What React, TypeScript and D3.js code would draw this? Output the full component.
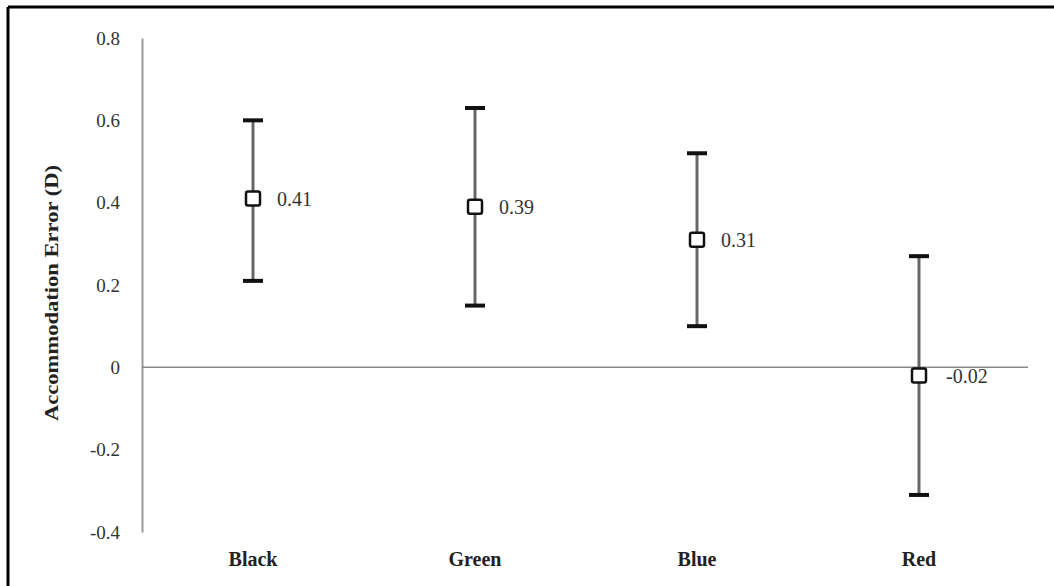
import React, { useEffect, useRef } from 'react';
import * as d3 from 'd3';

const categories = ['Black', 'Green', 'Blue', 'Red'];
const means = [0.41, 0.39, 0.31, -0.02];
const lower = [0.21, 0.15, 0.1, -0.31];
const upper = [0.6, 0.63, 0.52, 0.27];
const yTicks = [-0.4, -0.2, 0, 0.2, 0.4, 0.6, 0.8];

const W = 1054;
const H = 586;
const SERIF = '"Liberation Serif", "Times New Roman", serif';

// plain hyphen for negatives, like the source chart
const fmt = (spec: string) => (v: number) => d3.format(spec)(v).replace('\u2212', '-');

const App = () => {
  const ref = useRef<SVGSVGElement>(null);

  useEffect(() => {
    const svg = d3.select(ref.current);
    svg.selectAll('*').remove();

    const margin = { top: 38, left: 142, right: 24, bottom: 54 };

    const x = d3.scaleBand()
      .domain(categories)
      .range([margin.left, W - margin.right])
      .padding(0);

    const y = d3.scaleLinear()
      .domain([-0.4, 0.8])
      .range([H - margin.bottom, margin.top]);

    // frame (top and left edges only)
    svg.append('line')
      .attr('x1', 8).attr('x2', W).attr('y1', 7).attr('y2', 7)
      .attr('stroke', '#000').attr('stroke-width', 3);
    svg.append('line')
      .attr('x1', 8).attr('x2', 8).attr('y1', 7).attr('y2', H)
      .attr('stroke', '#000').attr('stroke-width', 3);

    // y axis
    const yAxis = svg.append('g')
      .attr('transform', `translate(${margin.left},0)`)
      .attr('font-family', SERIF)
      .call(d3.axisLeft(y).tickValues(yTicks).tickSize(0).tickPadding(22)
        .tickFormat(d => (d === 0 ? '0' : fmt('.1f')(d as number))));
    yAxis.attr('font-family', SERIF);
    yAxis.select('.domain').attr('stroke', '#999').attr('stroke-width', 2);
    yAxis.selectAll('text')
      .style('font-family', SERIF)
      .attr('font-size', 19)
      .attr('fill', '#333');

    // zero line
    svg.append('line')
      .attr('x1', margin.left).attr('x2', W - margin.right - 2)
      .attr('y1', y(0)).attr('y2', y(0))
      .attr('stroke', '#888').attr('stroke-width', 1.5);

    svg.selectAll('.cat')
      .data(categories)
      .enter().append('text')
      .attr('class', 'cat')
      .attr('x', d => (x(d) as number) + x.bandwidth() / 2)
      .attr('y', H - 20)
      .attr('text-anchor', 'middle')
      .style('font-family', SERIF)
      .attr('font-weight', 'bold')
      .attr('font-size', 20)
      .attr('fill', '#222')
      .text(d => d);

    // y title
    svg.append('text')
      .attr('transform', `translate(52,${(margin.top + H - margin.bottom) / 2 + 8}) rotate(-90)`)
      .attr('text-anchor', 'middle')
      .attr('dominant-baseline', 'central')
      .style('font-family', SERIF)
      .attr('font-weight', 'bold')
      .attr('font-size', 18)
      .attr('textLength', 256)
      .attr('lengthAdjust', 'spacingAndGlyphs')
      .attr('fill', '#222')
      .text('Accommodation Error (D)');

    const rows = categories.map((c, i) => ({
      c, mean: means[i], lo: lower[i], hi: upper[i],
    }));
    const cx = (c: string) => (x(c) as number) + x.bandwidth() / 2;

    const g = svg.selectAll('.pt').data(rows).enter().append('g').attr('class', 'pt');

    g.append('line')
      .attr('x1', d => cx(d.c)).attr('x2', d => cx(d.c))
      .attr('y1', d => y(d.hi)).attr('y2', d => y(d.lo))
      .attr('stroke', '#666').attr('stroke-width', 3);

    ['hi', 'lo'].forEach(k => {
      g.append('line')
        .attr('x1', d => cx(d.c) - 10).attr('x2', d => cx(d.c) + 10)
        .attr('y1', (d: any) => y(d[k])).attr('y2', (d: any) => y(d[k]))
        .attr('stroke', '#111').attr('stroke-width', 4);
    });

    g.append('rect')
      .attr('x', d => cx(d.c) - 7).attr('y', d => y(d.mean) - 7)
      .attr('width', 14).attr('height', 14)
      .attr('rx', 2)
      .attr('fill', '#fff').attr('stroke', '#111').attr('stroke-width', 2.5);

    g.append('text')
      .attr('x', d => cx(d.c) + (d.mean < 0 ? 27 : 24))
      .attr('y', d => y(d.mean) + 7)
      .style('font-family', SERIF)
      .attr('font-size', 20)
      .attr('fill', '#333')
      .text(d => fmt('.2f')(d.mean));
  }, []);

  return (
    <svg ref={ref} width={W} height={H}
      style={{ position: 'absolute', left: 0, top: 0, background: '#fff' }} />
  );
};

export default App;
